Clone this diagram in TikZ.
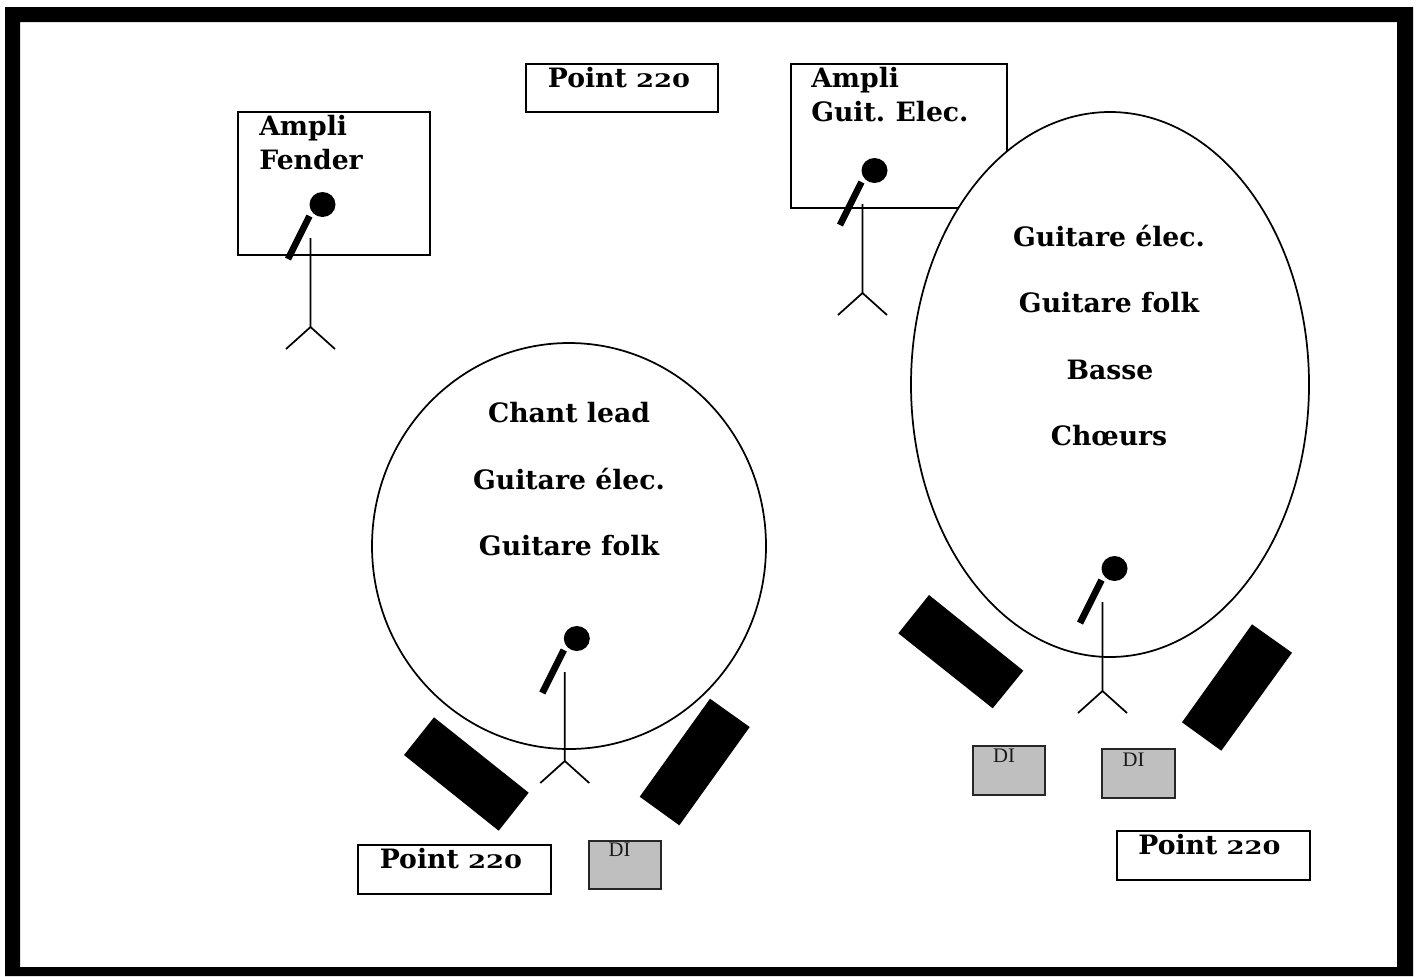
\documentclass[tikz,border=0pt]{standalone}
\usepackage{fontspec}
\usepackage{graphicx}
\setmainfont{DejaVu Serif}
\newfontfamily\difont{Liberation Serif}
\newcommand{\lown}[1]{\scalebox{0.97}[0.7]{#1}}
\tikzset{
  boxline/.style={draw=black,line width=1.3pt,fill=white},
  dibox/.style={draw=black!85,line width=1.5pt,fill=black!25},
  monitor/.style={fill=black,draw=none},
  lab/.style={font=\fontsize{20pt}{24pt}\selectfont\bfseries,inner sep=0pt,anchor=base,text=black},
  leftlab/.style={lab,anchor=base west},
  dilab/.style={font=\difont\fontsize{15.5pt}{18pt}\selectfont,inner sep=0pt,anchor=base,text=black!90},
  stem/.style={draw=black,line width=1.3pt},
  mike/.pic={
    \draw[stem] (0,-89) -- (0,0) -- (-24.5,22) (0,0) -- (24.5,22);
    \draw[black,line width=5pt] (-1,-111) -- (-22.5,-68);
    \fill[black] (12,-122.5) ellipse [x radius=13,y radius=12.5];
  }
}
\begin{document}
\begin{tikzpicture}[x=0.75pt,y=-0.75pt]
\useasboundingbox (0,0) rectangle (1419,976);
\fill[white] (0,0) rectangle (1419,976);
\fill[black,even odd rule] (5,7) rectangle (1413,976) (20,22) rectangle (1397,967);

% boxes
\draw[boxline] (238,112) rectangle (430,255);
\draw[boxline] (526,64) rectangle (718,112);
\draw[boxline] (791,64) rectangle (1007,208);
\draw[boxline] (358,845) rectangle (551,894);
\draw[boxline] (1117,831) rectangle (1310,880);

% circles
\draw[boxline] (1110,384.5) ellipse [x radius=199,y radius=272.5];
\draw[boxline] (569,546) ellipse [x radius=197,y radius=203];

% monitors
\fill[monitor] (929,595) -- (898.3,633.3) -- (992.7,708.3) -- (1023.3,670.7) -- cycle;
\fill[monitor] (1252,624.3) -- (1292,652.7) -- (1221.3,750.7) -- (1182,722.3) -- cycle;
\fill[monitor] (434,717.3) -- (404,755) -- (498.7,830.7) -- (528.7,792.7) -- cycle;
\fill[monitor] (710,698.7) -- (749.7,727) -- (679.3,825.3) -- (639.7,796.7) -- cycle;

% DI boxes
\draw[dibox] (972.7,746) rectangle (1045.3,795);
\draw[dibox] (1102,749.3) rectangle (1175.3,798);
\draw[dibox] (588.7,840.7) rectangle (661,889.3);

% microphones on stands
\pic at (310.5,327) {mike};
\pic at (862.5,293) {mike};
\pic at (564.8,761) {mike};
\pic at (1102.5,691) {mike};

% labels
\node[leftlab] (amplif) at (259,135) {Ampli};
\node[leftlab] (fender) at (259,169) {Fender};
\node[lab] (ptop) at (619,87) {Point \lown{220}};
\node[leftlab] (amplig) at (811,87) {Ampli};
\node[leftlab] (guit) at (811,121) {Guit.\hspace{-1.5pt} Elec.};
\node[lab] (e1) at (1109,246) {Guitare élec.};
\node[lab] (e2) at (1109,312) {Guitare folk};
\node[lab] (e3) at (1110,379) {Basse};
\node[lab] (e4) at (1109,445) {Chœurs};
\node[lab] (c1) at (569,422) {Chant lead};
\node[lab] (c2) at (569,489) {Guitare élec.};
\node[lab] (c3) at (569,555) {Guitare folk};
\node[lab] (pbl) at (451,868) {Point \lown{220}};
\node[lab] (pbr) at (1209.5,854) {Point \lown{220}};
\node[dilab] (di1) at (1004,762) {DI};
\node[dilab] (di2) at (1133.5,766) {DI};
\node[dilab] (di3) at (619.5,856) {DI};
\end{tikzpicture}
\end{document}
